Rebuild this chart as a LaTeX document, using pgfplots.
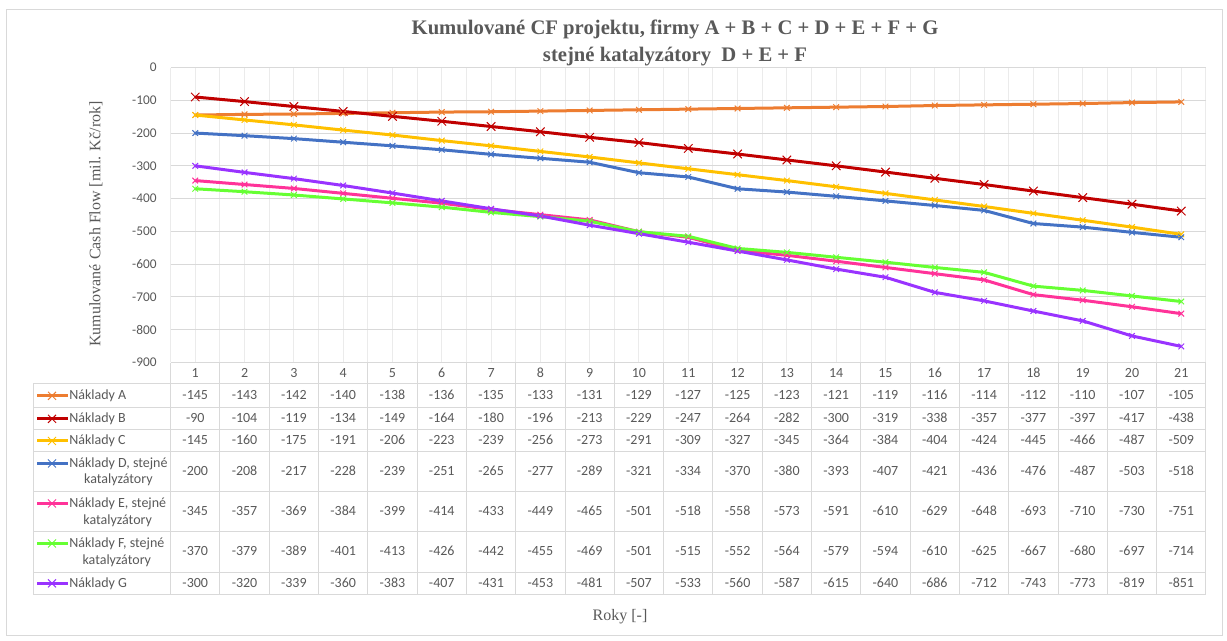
\documentclass[border=0pt]{standalone}
\usepackage{fontspec}
\setmainfont{Carlito}
\newfontfamily\serif{Liberation Serif}
\usepackage{pgfplots}
\usepackage{pgfplotstable}
\pgfplotsset{compat=1.18}

\definecolor{cA}{HTML}{ED7D31}
\definecolor{cB}{HTML}{C00000}
\definecolor{cC}{HTML}{FFC000}
\definecolor{cD}{HTML}{4472C4}
\definecolor{cE}{HTML}{FF3399}
\definecolor{cF}{HTML}{66FF33}
\definecolor{cG}{HTML}{9933FF}
\definecolor{txt}{HTML}{595959}
\definecolor{grd}{HTML}{D9D9D9}
\definecolor{vgrd}{HTML}{EBEBEB}

% kumulovane CF, roky 1..21
\pgfplotstableread{
x A B C D E F G
1 -145 -90 -145 -200 -345 -370 -300
2 -143 -104 -160 -208 -357 -379 -320
3 -142 -119 -175 -217 -369 -389 -339
4 -140 -134 -191 -228 -384 -401 -360
5 -138 -149 -206 -239 -399 -413 -383
6 -136 -164 -223 -251 -414 -426 -407
7 -135 -180 -239 -265 -433 -442 -431
8 -133 -196 -256 -277 -449 -455 -453
9 -131 -213 -273 -289 -465 -469 -481
10 -129 -229 -291 -321 -501 -501 -507
11 -127 -247 -309 -334 -518 -515 -533
12 -125 -264 -327 -370 -558 -552 -560
13 -123 -282 -345 -380 -573 -564 -587
14 -121 -300 -364 -393 -591 -579 -615
15 -119 -319 -384 -407 -610 -594 -640
16 -116 -338 -404 -421 -629 -610 -686
17 -114 -357 -424 -436 -648 -625 -712
18 -112 -377 -445 -476 -693 -667 -743
19 -110 -397 -466 -487 -710 -680 -773
20 -107 -417 -487 -503 -730 -697 -819
21 -105 -438 -509 -518 -751 -714 -851
}\cf

% legend key in the table
\newcommand{\key}[2]{%
  \draw[#1, line width=2.25pt] (37,#2) -- (68,#2);
  \draw[#1, line width=0.75pt] (48,{#2-4}) -- (56,{#2+4}) (48,{#2+4}) -- (56,{#2-4});
}

\begin{document}
\begin{tikzpicture}
\begin{axis}[
    at={(127.95pt,208.875pt)}, anchor=south west,
    scale only axis, width=776.5pt, height=221.25pt,
    xmin=0.5, xmax=21.5, ymin=-900, ymax=0,
    xtick={1,...,21}, xticklabels={},
    minor xtick={0.5,1.5,...,21.5},
    ytick={-900,-800,...,0},
    xmajorgrids, xminorgrids, ymajorgrids,
    major x grid style={vgrd, line width=0.75pt},
    minor x grid style={vgrd, line width=0.75pt},
    major y grid style={grd, line width=0.75pt},
    axis line style={draw=none},
    major tick length=0pt, minor tick length=0pt,
    /pgf/number format/assume math mode=true,
    yticklabel style={font=\fontsize{10}{12}\selectfont, text=txt, xshift=-7pt},
    every axis plot/.append style={line width=2.25pt, mark options={solid, line width=0.75pt}},
]
\addplot[cA, mark=x, mark size=3pt] table[x=x, y=A] {\cf};
\addplot[cB, mark=x, mark size=4.5pt] table[x=x, y=B] {\cf};
\addplot[cC, mark=x, mark size=3pt] table[x=x, y=C] {\cf};
\addplot[cD, mark=x, mark size=3pt] table[x=x, y=D] {\cf};
\addplot[cE, mark=x, mark size=3pt] table[x=x, y=E] {\cf};
\addplot[cF, mark=x, mark size=3pt] table[x=x, y=F] {\cf};
\addplot[cG, mark=x, mark size=3pt] table[x=x, y=G] {\cf};
\end{axis}

% data table values
\begin{axis}[
    at={(127.95pt,35.025pt)}, anchor=south west,
    scale only axis, width=776.5pt, height=173.475pt,
    xmin=0.5, xmax=21.5, ymin=-594.3, ymax=-363,
    hide axis, clip=false,
    tbl/.style={draw=none, mark=none, nodes near coords,
      point meta=explicit symbolic,
      nodes near coords style={anchor=center, inner sep=0pt,
        text height=1.45ex, text depth=0.25ex,
        font=\fontsize{10.5}{12}\selectfont, text=txt}},
]
\addplot[tbl] table[x=x, y expr=-373.5, meta=x] {\cf};
\addplot[tbl] table[x=x, y expr=-395.8, meta=A] {\cf};
\addplot[tbl] table[x=x, y expr=-418.8, meta=B] {\cf};
\addplot[tbl] table[x=x, y expr=-441, meta=C] {\cf};
\addplot[tbl] table[x=x, y expr=-471.8, meta=D] {\cf};
\addplot[tbl] table[x=x, y expr=-512, meta=E] {\cf};
\addplot[tbl] table[x=x, y expr=-552, meta=F] {\cf};
\addplot[tbl] table[x=x, y expr=-583.3, meta=G] {\cf};
\end{axis}

\begin{scope}[yshift=480.75pt, x=0.75pt, y=-0.75pt]
  \path (0,0) rectangle (1227,641);
  \draw[grd, line width=0.75pt] (6,10) rectangle (1222,636);
  % table lines
  \begin{scope}[grd, line width=0.75pt]
    \draw (170.6,363) -- (1206,363);
    \foreach \yy in {384,407.7,430,451.7,492,532,572.3,594.3}
      \draw (33,\yy) -- (1206,\yy);
    \draw (33,384) -- (33,594.3);
    \foreach \k in {0,...,21}
      \draw ({170.6+49.3*\k},363) -- ({170.6+49.3*\k},594.3);
  \end{scope}
  % legend keys and row labels
  \key{cA}{395.8}
  \key{cB}{418.8}
  \key{cC}{441}
  \key{cD}{463.5}
  \key{cE}{503.5}
  \key{cF}{543.5}
  \key{cG}{583.3}
  \begin{scope}[every node/.style={anchor=west, inner sep=0pt, text=txt,
      font=\fontsize{10.5}{12.5}\selectfont, align=center}]
    \node at (69,395.8) {Náklady A};
    \node at (69,418.8) {Náklady B};
    \node at (69,441) {Náklady C};
    \node at (69,471.8) {Náklady D, stejné\\katalyzátory};
    \node at (69,512) {Náklady E, stejné\\katalyzátory};
    \node at (69,552) {Náklady F, stejné\\katalyzátory};
    \node at (69,583.3) {Náklady G};
  \end{scope}
  % titles
  \node[font=\serif\bfseries\fontsize{15.5}{20}\selectfont, text=txt, align=center]
    at (675,43) {Kumulované CF projektu, firmy A + B + C + D + E + F + G\\stejné katalyzátory~ D + E + F};
  \node[rotate=90, font=\serif\fontsize{12}{14}\selectfont, text=txt] at (96,224)
    {Kumulované Cash Flow [mil. Kč/rok]};
  \node[font=\serif\fontsize{12}{14}\selectfont, text=txt] at (620,617) {Roky [-]};
\end{scope}
\end{tikzpicture}
\end{document}
